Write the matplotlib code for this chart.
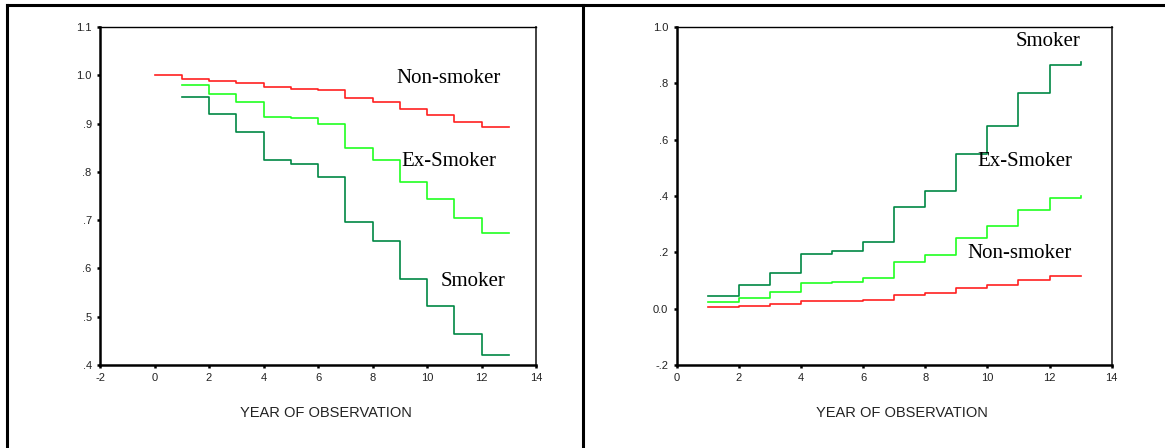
import matplotlib
matplotlib.use('Agg')
import matplotlib.pyplot as plt
from matplotlib.lines import Line2D

# ---------------------------
# Data
# ---------------------------

# Left panel: cumulative survival by year (step functions)
years_non = [0, 1, 2, 3, 4, 5, 6, 7, 8, 9, 10, 11, 12, 13]
surv_non = [1.000, 0.993, 0.989, 0.985, 0.975, 0.972, 0.969, 0.952, 0.945,
            0.930, 0.917, 0.903, 0.892, 0.892]

years_ex = [1, 2, 3, 4, 5, 6, 7, 8, 9, 10, 11, 12, 13]
surv_ex = [0.979, 0.961, 0.945, 0.914, 0.911, 0.899, 0.849, 0.824, 0.778,
           0.744, 0.705, 0.673, 0.673]

years_smk = [1, 2, 3, 4, 5, 6, 7, 8, 9, 10, 11, 12, 13]
surv_smk = [0.954, 0.919, 0.882, 0.825, 0.816, 0.790, 0.696, 0.656, 0.578,
            0.522, 0.465, 0.420, 0.420]

# Right panel: cumulative hazard by year
years_r = [1, 2, 3, 4, 5, 6, 7, 8, 9, 10, 11, 12, 13]
haz_smk = [0.045, 0.085, 0.126, 0.193, 0.204, 0.236, 0.362, 0.418, 0.549,
           0.647, 0.765, 0.865, 0.877]
haz_ex = [0.023, 0.037, 0.058, 0.090, 0.094, 0.108, 0.164, 0.192, 0.251,
          0.294, 0.350, 0.392, 0.400]
haz_non = [0.006, 0.010, 0.017, 0.026, 0.027, 0.030, 0.049, 0.057, 0.072,
           0.084, 0.101, 0.117, 0.117]

left_xticks = [-2, 0, 2, 4, 6, 8, 10, 12, 14]
left_yticks = [0.4, 0.5, 0.6, 0.7, 0.8, 0.9, 1.0, 1.1]
left_ylabels = ['.4', '.5', '.6', '.7', '.8', '.9', '1.0', '1.1']

right_xticks = [0, 2, 4, 6, 8, 10, 12, 14]
right_yticks = [-0.2, 0.0, 0.2, 0.4, 0.6, 0.8, 1.0]
right_ylabels = ['-.2', '0.0', '.2', '.4', '.6', '.8', '1.0']

x_title = 'YEAR OF OBSERVATION'

RED = '#ff2020'
LIGHT_GREEN = '#20ff20'
DARK_GREEN = '#008844'

# ---------------------------
# Figure
# ---------------------------
W, H = 1165, 448
fig = plt.figure(figsize=(W / 100, H / 100), dpi=100)
fig.patch.set_facecolor('white')


def px_axes(x0, y0, x1, y1):
    # pixel box (top-left origin) -> figure fraction
    return fig.add_axes([x0 / W, 1 - y1 / H, (x1 - x0) / W, (y1 - y0) / H])


def style_axes(ax, xticks, yticks, ylabels):
    for s in ['left', 'bottom']:
        ax.spines[s].set_linewidth(1.8)
    ax.spines['top'].set_linewidth(1.0)
    ax.spines['right'].set_linewidth(1.3)
    ax.spines['right'].set_color('#333333')
    ax.set_xticks(xticks)
    ax.set_xticklabels([str(t) for t in xticks])
    ax.set_yticks(yticks)
    ax.set_yticklabels(ylabels)
    ax.tick_params(direction='out', length=2.5, width=1.8, pad=3.5,
                   labelsize=8, colors='black')
    for lab in ax.get_xticklabels() + ax.get_yticklabels():
        lab.set_family('Liberation Sans')
        lab.set_color('#222222')
    ax.set_xlabel(x_title, family='Liberation Sans', fontsize=10.5, color='#222222')
    ax.xaxis.set_label_coords(0.518, -0.122)


serif = dict(family='Liberation Serif', fontsize=15, ha='center', va='center')

# Left panel: survival
ax1 = px_axes(100, 27, 536, 365)
ax1.step(years_non, surv_non, where='post', color=RED, lw=1.2)
ax1.step(years_ex, surv_ex, where='post', color=LIGHT_GREEN, lw=1.2)
ax1.step(years_smk, surv_smk, where='post', color=DARK_GREEN, lw=1.2)
ax1.set_xlim(-2, 14)
ax1.set_ylim(0.4, 1.1)
style_axes(ax1, left_xticks, left_yticks, left_ylabels)
ax1.text(10.8, 0.994, 'Non-smoker', **serif)
ax1.text(10.8, 0.821, 'Ex-Smoker', **serif)
ax1.text(11.7, 0.573, 'Smoker', **serif)

# Right panel: hazard
ax2 = px_axes(676.7, 27, 1111.7, 365)
ax2.step(years_r, haz_non, where='post', color=RED, lw=1.2)
ax2.step(years_r, haz_ex, where='post', color=LIGHT_GREEN, lw=1.2)
ax2.step(years_r, haz_smk, where='post', color=DARK_GREEN, lw=1.2)
ax2.set_xlim(0, 14)
ax2.set_ylim(-0.2, 1.0)
style_axes(ax2, right_xticks, right_yticks, right_ylabels)
ax2.text(11.96, 0.949, 'Smoker', **serif)
ax2.text(11.19, 0.522, 'Ex-Smoker', **serif)
ax2.text(11.05, 0.197, 'Non-smoker', **serif)

# Table-like frame around the two panels
top_y = 1 - 5 / H
fig.add_artist(Line2D([7 / W, 1], [top_y, top_y], transform=fig.transFigure,
                      color='black', lw=2.2))
for xp in [7, 583.5]:
    fig.add_artist(Line2D([xp / W, xp / W], [0, top_y], transform=fig.transFigure,
                          color='black', lw=2.2))

fig.savefig('out.png', dpi=100)
plt.close(fig)
